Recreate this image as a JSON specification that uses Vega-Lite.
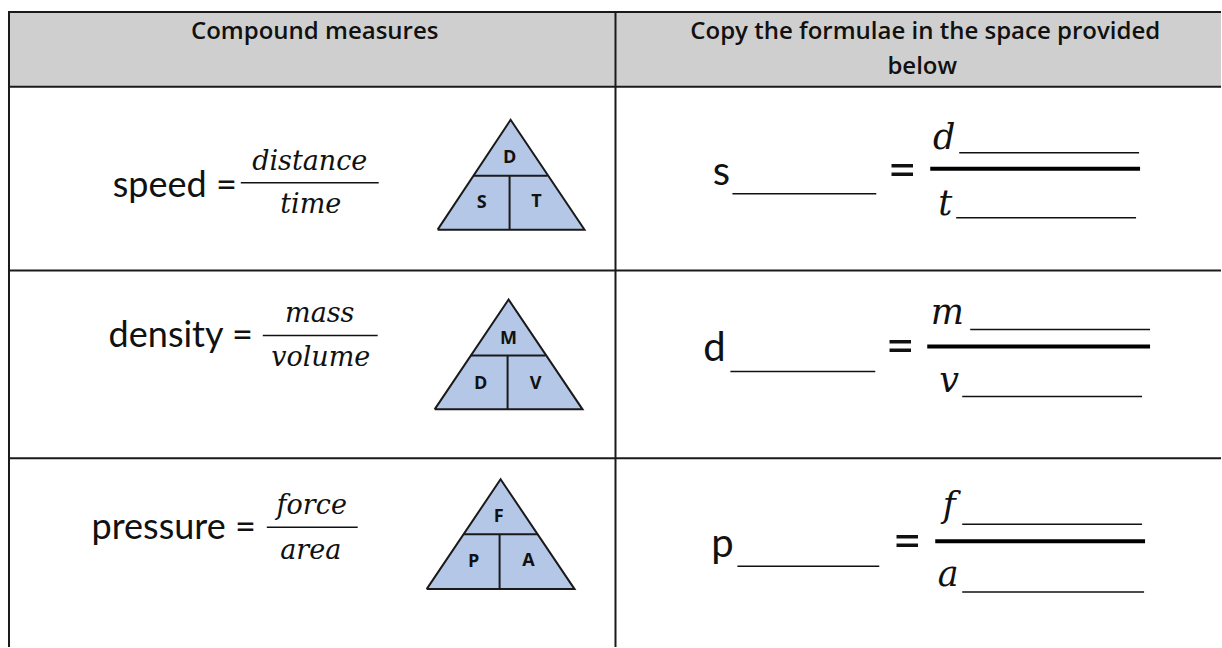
{
  "$schema": "https://vega.github.io/schema/vega-lite/v6.json",
  "width": 1222,
  "height": 648,
  "padding": 0,
  "autosize": {"type": "fit", "contains": "padding"},
  "background": "white",
  "config": {"view": {"stroke": null}},
  "datasets": {
    "header": [{"x": 9, "x2": 1222, "y": 12, "y2": 87}],
    "borders": [
      {"x": 8, "x2": 1222, "y": 12, "y2": 12},
      {"x": 8, "x2": 1222, "y": 87, "y2": 87},
      {"x": 8, "x2": 1222, "y": 271, "y2": 271},
      {"x": 8, "x2": 1222, "y": 459, "y2": 459},
      {"x": 9, "x2": 9, "y": 11, "y2": 648},
      {"x": 616, "x2": 616, "y": 11, "y2": 648}
    ],
    "triFill": [
      {"tri": "speed", "x": 438, "y": 230, "y2": 230},
      {"tri": "speed", "x": 511, "y": 120, "y2": 230},
      {"tri": "speed", "x": 585, "y": 230, "y2": 230},
      {"tri": "density", "x": 435, "y": 410, "y2": 410},
      {"tri": "density", "x": 509, "y": 300, "y2": 410},
      {"tri": "density", "x": 583, "y": 410, "y2": 410},
      {"tri": "pressure", "x": 427, "y": 590, "y2": 590},
      {"tri": "pressure", "x": 501, "y": 480, "y2": 590},
      {"tri": "pressure", "x": 575, "y": 590, "y2": 590}
    ],
    "triEdge": [
      {"tri": "speed", "o": 1, "x": 438, "y": 230},
      {"tri": "speed", "o": 2, "x": 511, "y": 120},
      {"tri": "speed", "o": 3, "x": 585, "y": 230},
      {"tri": "speed", "o": 4, "x": 438, "y": 230},
      {"tri": "density", "o": 1, "x": 435, "y": 410},
      {"tri": "density", "o": 2, "x": 509, "y": 300},
      {"tri": "density", "o": 3, "x": 583, "y": 410},
      {"tri": "density", "o": 4, "x": 435, "y": 410},
      {"tri": "pressure", "o": 1, "x": 427, "y": 590},
      {"tri": "pressure", "o": 2, "x": 501, "y": 480},
      {"tri": "pressure", "o": 3, "x": 575, "y": 590},
      {"tri": "pressure", "o": 4, "x": 427, "y": 590}
    ],
    "triInner": [
      {"x": 474, "x2": 548, "y": 176, "y2": 176},
      {"x": 510, "x2": 510, "y": 176, "y2": 230},
      {"x": 471, "x2": 546, "y": 356, "y2": 356},
      {"x": 508, "x2": 508, "y": 356, "y2": 410},
      {"x": 464, "x2": 538, "y": 535, "y2": 535},
      {"x": 500, "x2": 500, "y": 535, "y2": 590}
    ],
    "triLabels": [
      {"t": "D", "x": 510, "y": 158},
      {"t": "S", "x": 482, "y": 203},
      {"t": "T", "x": 537, "y": 202},
      {"t": "M", "x": 509, "y": 340},
      {"t": "D", "x": 481, "y": 385},
      {"t": "V", "x": 536, "y": 385},
      {"t": "F", "x": 499, "y": 518},
      {"t": "P", "x": 474, "y": 563},
      {"t": "A", "x": 529, "y": 562}
    ],
    "headerText": [
      {"t": "Compound measures", "x": 315, "y": 39},
      {"t": "Copy the formulae in the space provided", "x": 926, "y": 39},
      {"t": "below", "x": 923, "y": 74}
    ],
    "leftLabels": [
      {"t": "speed =", "x": 237, "y": 197},
      {"t": "density =", "x": 253, "y": 348},
      {"t": "pressure =", "x": 256, "y": 540}
    ],
    "fracBars": [
      {"x": 241, "x2": 379, "y": 183, "y2": 183},
      {"x": 263, "x2": 378, "y": 336, "y2": 336},
      {"x": 267, "x2": 358, "y": 528, "y2": 528}
    ],
    "fracText": [
      {"t": "distance", "x": 310, "y": 170},
      {"t": "time", "x": 311, "y": 213},
      {"t": "mass", "x": 320, "y": 322},
      {"t": "volume", "x": 321, "y": 367},
      {"t": "force", "x": 312, "y": 515},
      {"t": "area", "x": 311, "y": 560}
    ],
    "rightSans": [
      {"t": "s", "x": 722, "y": 185},
      {"t": "d", "x": 715, "y": 362},
      {"t": "p", "x": 723, "y": 558}
    ],
    "equals": [
      {"t": "=", "x": 903, "y": 187},
      {"t": "=", "x": 901, "y": 364},
      {"t": "=", "x": 908, "y": 559}
    ],
    "rightItalic": [
      {"t": "d", "x": 945, "y": 149},
      {"t": "t", "x": 946, "y": 215},
      {"t": "m", "x": 948, "y": 325},
      {"t": "v", "x": 950, "y": 393},
      {"t": "f", "x": 950, "y": 518},
      {"t": "a", "x": 949, "y": 587}
    ],
    "thinLines": [
      {"x": 733, "x2": 877, "y": 194, "y2": 194},
      {"x": 960, "x2": 1140, "y": 153, "y2": 153},
      {"x": 957, "x2": 1137, "y": 218, "y2": 218},
      {"x": 731, "x2": 876, "y": 372, "y2": 372},
      {"x": 971, "x2": 1151, "y": 330, "y2": 330},
      {"x": 963, "x2": 1143, "y": 397, "y2": 397},
      {"x": 738, "x2": 880, "y": 567, "y2": 567},
      {"x": 963, "x2": 1143, "y": 525, "y2": 525},
      {"x": 963, "x2": 1145, "y": 593, "y2": 593}
    ],
    "thickBars": [
      {"x": 931, "x2": 1141, "y": 169, "y2": 169},
      {"x": 928, "x2": 1151, "y": 347, "y2": 347},
      {"x": 936, "x2": 1146, "y": 542, "y2": 542}
    ]
  },
  "encoding": {
    "x": {"field": "x", "type": "quantitative", "scale": {"domain": [0, 1222], "nice": false, "zero": false}, "axis": null},
    "y": {"field": "y", "type": "quantitative", "scale": {"domain": [0, 648], "nice": false, "zero": false, "reverse": true}, "axis": null}
  },
  "layer": [
    {
      "data": {"name": "header"},
      "mark": {"type": "rect", "fill": "#d0cfcf"},
      "encoding": {"x2": {"field": "x2"}, "y2": {"field": "y2"}}
    },
    {
      "data": {"name": "borders"},
      "mark": {"type": "rule", "stroke": "#1a1a1a", "strokeWidth": 2},
      "encoding": {"x2": {"field": "x2"}, "y2": {"field": "y2"}}
    },
    {
      "data": {"name": "triFill"},
      "mark": {"type": "area", "fill": "#b4c7e7", "opacity": 1},
      "encoding": {"y2": {"field": "y2"}, "detail": {"field": "tri"}}
    },
    {
      "data": {"name": "triEdge"},
      "mark": {"type": "line", "stroke": "#1a1a1a", "strokeWidth": 2},
      "encoding": {"order": {"field": "o"}, "detail": {"field": "tri"}}
    },
    {
      "data": {"name": "triInner"},
      "mark": {"type": "rule", "stroke": "#1a1a1a", "strokeWidth": 2},
      "encoding": {"x2": {"field": "x2"}, "y2": {"field": "y2"}}
    },
    {
      "data": {"name": "triLabels"},
      "mark": {"type": "text", "font": "Open Sans", "fontWeight": "bold", "fontSize": 18, "align": "center", "baseline": "middle", "fill": "#111"},
      "encoding": {"text": {"field": "t"}}
    },
    {
      "data": {"name": "headerText"},
      "mark": {"type": "text", "font": "Open Sans", "fontWeight": 600, "fontSize": 24, "align": "center", "baseline": "alphabetic", "fill": "#111"},
      "encoding": {"text": {"field": "t"}}
    },
    {
      "data": {"name": "leftLabels"},
      "mark": {"type": "text", "font": "Lato", "fontSize": 36, "align": "right", "baseline": "alphabetic", "fill": "#111"},
      "encoding": {"text": {"field": "t"}}
    },
    {
      "data": {"name": "fracBars"},
      "mark": {"type": "rule", "stroke": "#111", "strokeWidth": 1.5},
      "encoding": {"x2": {"field": "x2"}, "y2": {"field": "y2"}}
    },
    {
      "data": {"name": "fracText"},
      "mark": {"type": "text", "font": "DejaVu Serif", "fontStyle": "italic", "fontSize": 27, "align": "center", "baseline": "alphabetic", "fill": "#111"},
      "encoding": {"text": {"field": "t"}}
    },
    {
      "data": {"name": "rightSans"},
      "mark": {"type": "text", "font": "Lato", "fontSize": 40, "align": "center", "baseline": "alphabetic", "fill": "#111"},
      "encoding": {"text": {"field": "t"}}
    },
    {
      "data": {"name": "equals"},
      "mark": {"type": "text", "font": "Lato", "fontSize": 50, "align": "center", "baseline": "alphabetic", "fill": "#111"},
      "encoding": {"text": {"field": "t"}}
    },
    {
      "data": {"name": "rightItalic"},
      "mark": {"type": "text", "font": "DejaVu Serif", "fontStyle": "italic", "fontSize": 35, "align": "center", "baseline": "alphabetic", "fill": "#111"},
      "encoding": {"text": {"field": "t"}}
    },
    {
      "data": {"name": "thinLines"},
      "mark": {"type": "rule", "stroke": "#111", "strokeWidth": 1.5},
      "encoding": {"x2": {"field": "x2"}, "y2": {"field": "y2"}}
    },
    {
      "data": {"name": "thickBars"},
      "mark": {"type": "rule", "stroke": "#000", "strokeWidth": 4},
      "encoding": {"x2": {"field": "x2"}, "y2": {"field": "y2"}}
    }
  ]
}
